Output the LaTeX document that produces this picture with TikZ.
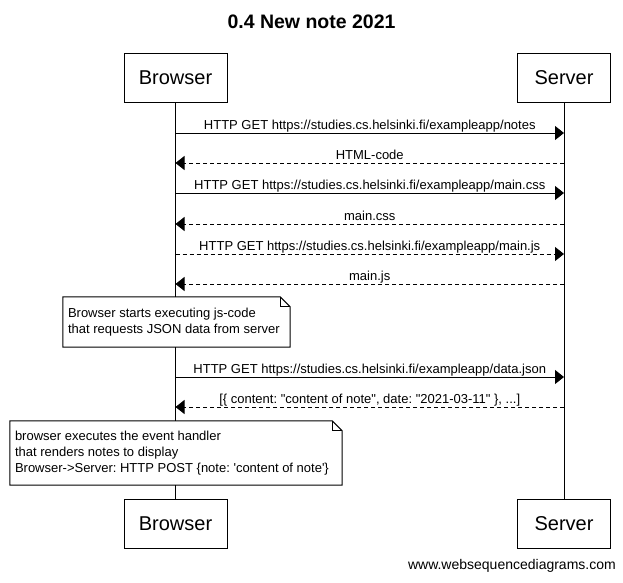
\documentclass[tikz,border=0pt]{standalone}
\usepackage{fontspec}
\setmainfont{Liberation Sans}[Ligatures=TeXOff]
\usetikzlibrary{arrows.meta}
\frenchspacing
\newcommand\drawnote[1]{%
  \draw[noteline] (#1.north west) -- ([xshift=-10pt]#1.north east) -- ([yshift=-10pt]#1.north east) -- (#1.south east) -- (#1.south west) -- cycle;
  \draw[noteline] ([xshift=-10pt]#1.north east) |- ([yshift=-10pt]#1.north east);}
\begin{document}
\begin{tikzpicture}[x=1pt,y=-1pt,
  actor/.style={draw, line width=1pt, fill=white, minimum height=49pt, inner sep=0pt, font=\fontsize{20}{24}\selectfont},
  life/.style={line width=1pt},
  msg/.style={line width=1pt, -{Triangle[length=9pt,width=14pt]}},
  ret/.style={msg, dash pattern=on 4pt off 3pt},
  lbl/.style={anchor=base, inner sep=0pt, font=\frenchspacing\fontsize{13}{15}\selectfont},
  notebox/.style={fill=white, inner sep=0pt},
  notetext/.style={anchor=west, inner sep=0pt, align=left, font=\frenchspacing\fontsize{13}{15.5}\selectfont},
  noteline/.style={line width=1pt}
  ]
\useasboundingbox (0,0) rectangle (623,582);
\node[font=\bfseries\fontsize{19.5}{23}\selectfont, inner sep=0pt] (title) at (311.5,22) {0.4 New note 2021};

\node[actor, minimum width=103pt] (bt) at (175.5,77.5) {Browser};
\node[actor, minimum width=93pt] (st) at (564,77.5) {Server};
\node[actor, minimum width=103pt] (bb) at (175.5,523.5) {Browser};
\node[actor, minimum width=93pt] (sb) at (564,523.5) {Server};
\draw[life] (bt) -- (bb);
\draw[life] (st) -- (sb);

% message end points on lifelines
\foreach \n/\y in {1/133,2/163,3/193,4/224,5/254,6/284,7/377,8/407}{
  \coordinate (b\n) at (175.5,\y);
  \coordinate (s\n) at (564,\y);
}

\draw[msg] (b1) -- (s1) node[lbl, pos=0.5, yshift=3.5pt] (l1) {HTTP GET https://studies.cs.helsinki.fi/exampleapp/notes};
\draw[ret] (s2) -- (b2) node[lbl, pos=0.5, yshift=3.5pt] (l2) {HTML-code};
\draw[msg] (b3) -- (s3) node[lbl, pos=0.5, yshift=3.5pt] (l3) {HTTP GET https://studies.cs.helsinki.fi/exampleapp/main.css};
\draw[ret] (s4) -- (b4) node[lbl, pos=0.5, yshift=3.5pt] (l4) {main.css};
\draw[ret] (b5) -- (s5) node[lbl, pos=0.5, yshift=3.5pt] (l5) {HTTP GET https://studies.cs.helsinki.fi/exampleapp/main.js};
\draw[ret] (s6) -- (b6) node[lbl, pos=0.5, yshift=3.5pt] (l6) {main.js};

\node[notebox, minimum width=227pt, minimum height=50pt] (n1) at (176.5,322) {};
\drawnote{n1}
\node[notetext] (t1) at ([xshift=5pt]n1.west) {Browser starts executing js-code\\that requests JSON data from server};

\draw[msg] (b7) -- (s7) node[lbl, pos=0.5, yshift=3.5pt] (l7) {HTTP GET https://studies.cs.helsinki.fi/exampleapp/data.json};
\draw[ret] (s8) -- (b8) node[lbl, pos=0.5, yshift=3.5pt] (l8) {[\{ content: "content of note", date: "2021-03-11" \}, ...]};

\node[notebox, minimum width=332pt, minimum height=64pt] (n2) at (176,453) {};
\drawnote{n2}
\node[notetext, font=\frenchspacing\fontsize{13}{16}\selectfont] (t2) at ([xshift=5pt]n2.west) {browser executes the event handler\\that renders notes to display\\Browser->Server: HTTP POST \{note: 'content of note'\}};

\node[anchor=east, inner sep=0pt, font=\fontsize{14}{17}\selectfont] (foot) at (616,566) {www.websequencediagrams.com};
\end{tikzpicture}
\end{document}
